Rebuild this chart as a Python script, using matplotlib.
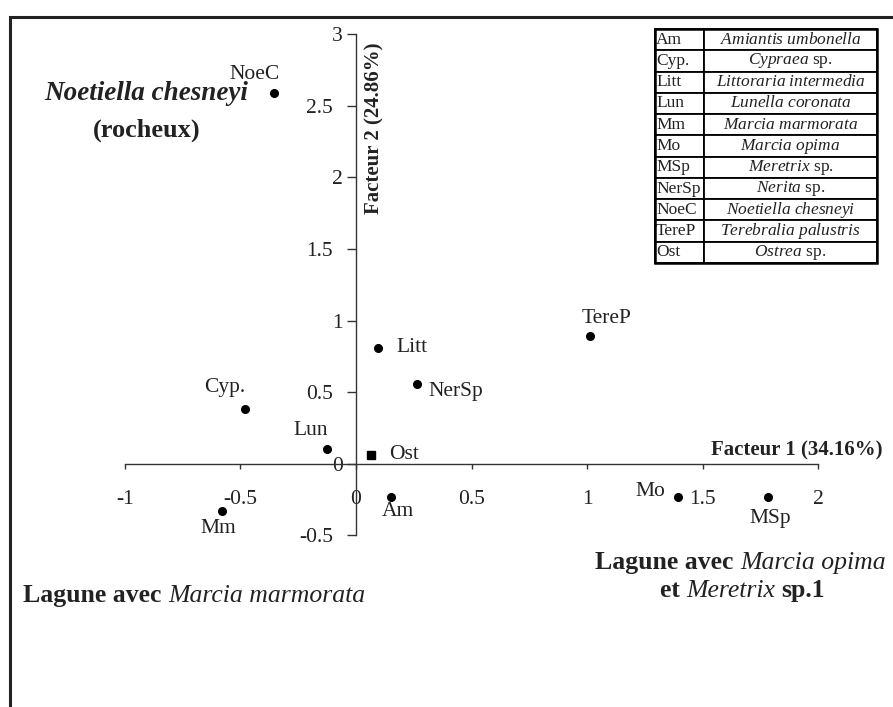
import matplotlib
matplotlib.use("Agg")
import matplotlib.pyplot as plt
from matplotlib.patches import Rectangle

plt.rcParams['font.family'] = ['Liberation Serif', 'DejaVu Serif']
plt.rcParams['mathtext.fontset'] = 'custom'
plt.rcParams['mathtext.rm'] = 'Liberation Serif'
plt.rcParams['mathtext.it'] = 'Liberation Serif:italic'
plt.rcParams['mathtext.bf'] = 'Liberation Serif:bold'

# ---- data ----
codes = ['NoeC', 'Litt', 'TereP', 'NerSp', 'Cyp.', 'Lun', 'Ost', 'Am', 'Mm', 'Mo', 'MSp']
factor1 = [-0.355, 0.094, 1.012, 0.265, -0.48, -0.124, 0.066, 0.151, -0.581, 1.395, 1.781]
factor2 = [2.59, 0.81, 0.89, 0.56, 0.38, 0.10, 0.06, -0.23, -0.33, -0.23, -0.23]
markers = ['o', 'o', 'o', 'o', 'o', 'o', 's', 'o', 'o', 'o', 'o']

xticks = [-1, -0.5, 0, 0.5, 1, 1.5, 2]
xticklabels = ['-1', '-0.5', '0', '0.5', '1', '1.5', '2']
yticks = [-0.5, 0, 0.5, 1, 1.5, 2, 2.5, 3]
yticklabels = ['-0.5', '0', '0.5', '1', '1.5', '2', '2.5', '3']

xlabel = 'Facteur 1 (34.16%)'
ylabel = 'Facteur 2 (24.86%)'

legend_codes = ['Am', 'Cyp.', 'Litt', 'Lun', 'Mm', 'Mo', 'MSp', 'NerSp', 'NoeC', 'TereP', 'Ost']
legend_names = [r'$\mathit{Amiantis\ umbonella}$', r'$\mathit{Cypraea}$ sp.',
                r'$\mathit{Littoraria\ intermedia}$', r'$\mathit{Lunella\ coronata}$',
                r'$\mathit{Marcia\ marmorata}$', r'$\mathit{Marcia\ opima}$',
                r'$\mathit{Meretrix}$ sp.', r'$\mathit{Nerita}$ sp.',
                r'$\mathit{Noetiella\ chesneyi}$', r'$\mathit{Terebralia\ palustris}$',
                r'$\mathit{Ostrea}$ sp.']

# label offsets in points (style)
label_offsets = {
    'NoeC': (-13.7, 13, 'center'), 'Litt': (13.7, 0, 'left'), 'TereP': (12.2, 12.5, 'center'),
    'NerSp': (7.9, -5.8, 'left'), 'Cyp.': (-14.4, 15.5, 'center'), 'Lun': (-12.2, 13.5, 'center'),
    'Ost': (13, 0.5, 'left'), 'Am': (5, -11, 'center'), 'Mm': (-2.2, -12.5, 'center'),
    'Mo': (-9.4, 3.6, 'right'), 'MSp': (2.2, -16, 'center'),
}

W, H = 893, 707
fig = plt.figure(figsize=(W / 100, H / 100), dpi=100)
ax = fig.add_axes([0, 0, 1, 1])
ux = 231.1
uy = 143.2
x0px, y0px = 356.0, 463.7
ax.set_xlim(-x0px / ux, (W - x0px) / ux)
ax.set_ylim(-(H - y0px) / uy, y0px / uy)
ax.patch.set_alpha(0)

for s in ['top', 'right']:
    ax.spines[s].set_visible(False)
ax.spines['left'].set_position(('data', 0))
ax.spines['bottom'].set_position(('data', 0))
ax.spines['left'].set_bounds(-0.5, 3)
ax.spines['bottom'].set_bounds(-1, 2)
for s in ['left', 'bottom']:
    ax.spines[s].set_color('#333333')
    ax.spines[s].set_linewidth(1.0)

ax.set_xticks(xticks)
ax.set_xticklabels(xticklabels)
ax.set_yticks(yticks)
ax.set_yticklabels(yticklabels)
ax.tick_params(axis='x', direction='out', length=3.6, width=1, color='#333333', pad=15.5,
               labelsize=15.5, labelcolor='#222222')
ax.tick_params(axis='y', direction='out', length=6.5, width=1, color='#333333', pad=10,
               labelsize=15.5, labelcolor='#222222')
for t, lab in zip(ax.yaxis.get_major_ticks(), yticklabels):
    if '.' not in lab:
        t.set_pad(3)

for c, x, y, m in zip(codes, factor1, factor2, markers):
    ax.plot(x, y, marker=m, color='black', markersize=5.5 if m == 'o' else 5.2,
            linestyle='none')
    dx, dy, ha = label_offsets[c]
    ax.annotate(c, (x, y), xytext=(dx, dy), textcoords='offset points',
                ha=ha, va='center', fontsize=15.5, color='#222222')

# axis titles
ax.text(0.082, 2.343, ylabel, rotation=90, fontsize=15, fontweight='bold',
        ha='center', va='center', color='#222222')
ax.text(2.280, 0.089, xlabel, fontsize=15, fontweight='bold', ha='right', va='center',
        color='#222222')

# annotations
ax.text(-0.906, 2.588, 'Noetiella chesneyi', fontsize=19.5, fontweight='bold',
        style='italic', ha='center', va='center', color='#222222')
ax.text(-0.906, 2.33, '(rocheux)', fontsize=19, fontweight='bold', ha='center', va='center',
        color='#222222')


def rich_line(x, y, parts, size=18.5):
    """parts: list of (text, weight, style); chained left to right."""
    prev = None
    for txt, wt, st in parts:
        if prev is None:
            prev = ax.text(x, y, txt, fontsize=size, fontweight=wt, style=st,
                           ha='left', va='center', color='#222222')
        else:
            prev = ax.annotate(txt, xy=(1, 0), xycoords=prev, ha='left', va='bottom',
                               fontsize=size, fontweight=wt, style=st, color='#222222')


rich_line(-1.441, -0.92, [('Lagune avec ', 'bold', 'normal'),
                          ('Marcia marmorata', 'normal', 'italic')])
rich_line(1.034, -0.69, [('Lagune avec ', 'bold', 'normal'),
                         ('Marcia opima', 'normal', 'italic')])
rich_line(1.315, -0.885, [('et ', 'bold', 'normal'),
                          ('Meretrix ', 'normal', 'italic'),
                          ('sp.1', 'bold', 'normal')])

# legend table
tx, ty, tw, th = 655, 29, 222, 234
tbl = ax.table(cellText=[[c, n] for c, n in zip(legend_codes, legend_names)],
               bbox=[tx / W, 1 - (ty + th) / H, tw / W, th / H],
               colWidths=[49 / tw, (tw - 49) / tw], cellLoc='center')
tbl.auto_set_font_size(False)
for (r, cidx), cell in tbl.get_celld().items():
    cell.set_linewidth(1.3)
    cell.set_edgecolor('black')
    cell.get_text().set_fontsize(12.5)
    cell.get_text().set_color('#222222')
    if cidx == 0:
        cell._loc = 'left'
        cell.get_text().set_ha('left')
        cell.PAD = 0.02
ax.add_patch(Rectangle((tx / W, 1 - (ty + th) / H), tw / W, th / H, transform=ax.transAxes,
                       fill=False, edgecolor='black', linewidth=1.8, zorder=10))

# outer frame
fig.patches.append(Rectangle((10 / W, -0.1), 1.2, 1 - 17 / H + 0.1, transform=fig.transFigure,
                             fill=False, edgecolor='#222222', linewidth=2.2))

fig.savefig('out.png', dpi=100)
